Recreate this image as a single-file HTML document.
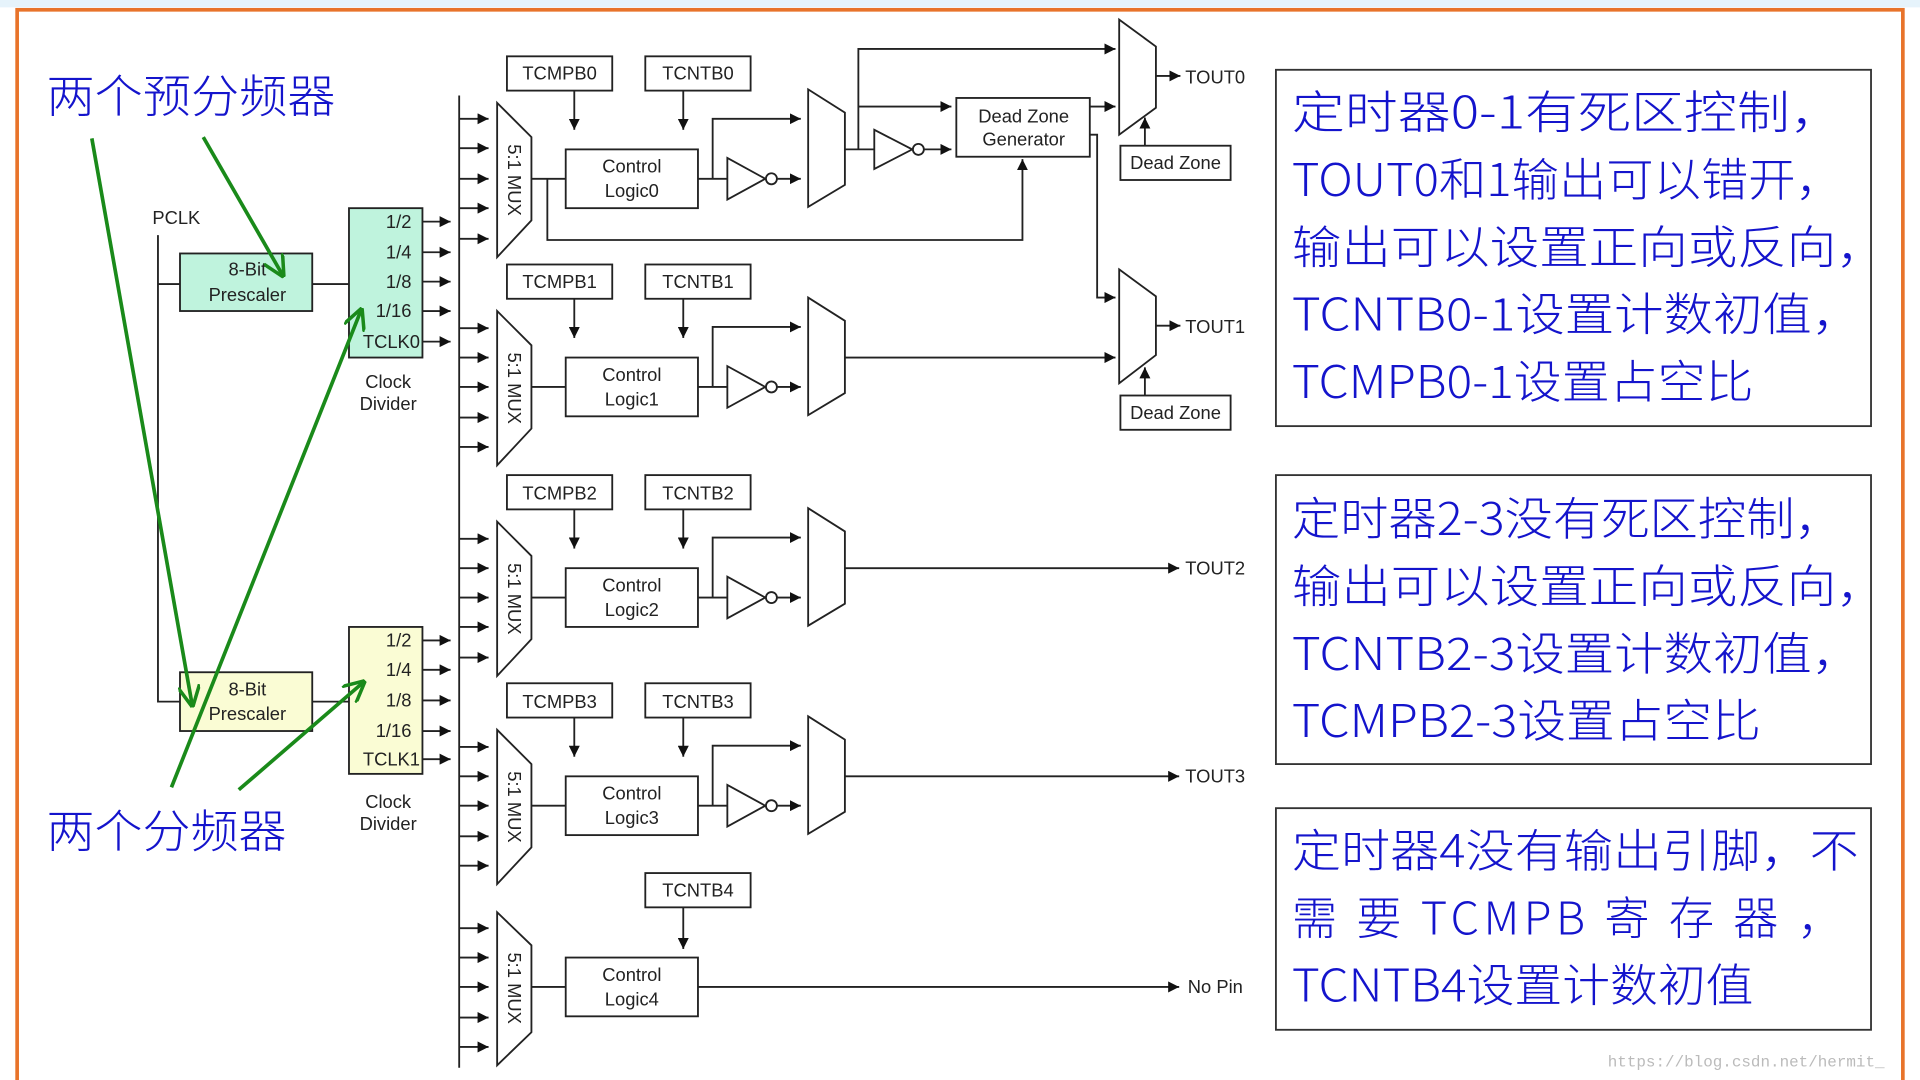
<!DOCTYPE html>
<html><head><meta charset="utf-8"><style>
html,body{margin:0;padding:0;background:#fff;}
svg{display:block;}
.d{font-family:"Liberation Sans",sans-serif;font-size:15px;fill:#222;}
.c{font-family:"Noto Sans CJK SC","Liberation Sans",sans-serif;font-size:37px;font-weight:300;fill:#1414cc;}
</style></head><body>
<svg width="1920" height="1080" viewBox="0 0 1568 882" preserveAspectRatio="none" xmlns="http://www.w3.org/2000/svg">
<defs>
<marker id="a" viewBox="0 0 10 10" refX="10" refY="5" markerWidth="9" markerHeight="9" markerUnits="userSpaceOnUse" orient="auto"><path d="M0,0L10,5L0,10z" fill="#111"/></marker>
<marker id="g" viewBox="0 0 10 10" refX="9" refY="5" markerWidth="18" markerHeight="18" markerUnits="userSpaceOnUse" orient="auto"><path d="M0,0L10,5L0,10" fill="none" stroke="#1a8a1a" stroke-width="1.6"/></marker>
</defs>
<rect x="0" y="0" width="1568" height="882" fill="#fff"/>
<rect x="0" y="0" width="1568" height="6" fill="#e6f3fb"/>
<rect x="14" y="8" width="1540" height="890" fill="none" stroke="#e8732a" stroke-width="3"/>

<g stroke="#222" stroke-width="1.5" fill="none">
<path d="M129,192V573H147M129,232H147M255,232H285M255,573H285"/>
<rect x="147" y="207" width="108" height="47" fill="#bff3dd"/>
<rect x="285" y="170" width="60" height="122" fill="#bff3dd"/>
<rect x="147" y="549" width="108" height="48" fill="#fafcd4"/>
<rect x="285" y="512" width="60" height="120" fill="#fafcd4"/>
<g marker-end="url(#a)">
<path d="M345,181H368"/><path d="M345,206H368"/><path d="M345,230H368"/><path d="M345,254H368"/><path d="M345,279H368"/>
<path d="M345,523H368"/><path d="M345,547H368"/><path d="M345,572H368"/><path d="M345,597H368"/><path d="M345,620H368"/>
</g>
<path d="M375,78V872"/>
<g marker-end="url(#a)">
<path d="M375,97H399"/><path d="M375,121H399"/><path d="M375,146H399"/><path d="M375,170H399"/><path d="M375,195H399"/>
<path d="M375,268H399"/><path d="M375,292H399"/><path d="M375,316H399"/><path d="M375,341H399"/><path d="M375,365H399"/>
<path d="M375,440H399"/><path d="M375,464H399"/><path d="M375,488H399"/><path d="M375,512H399"/><path d="M375,537H399"/>
<path d="M375,610H399"/><path d="M375,634H399"/><path d="M375,658H399"/><path d="M375,683H399"/><path d="M375,707H399"/>
<path d="M375,758H399"/><path d="M375,782H399"/><path d="M375,806H399"/><path d="M375,831H399"/><path d="M375,855H399"/>
</g>
</g>

<g id="grp" stroke="#222" stroke-width="1.5" fill="none">
<rect x="414" y="46" width="86" height="28" fill="#fff"/>
<rect x="527" y="46" width="86" height="28" fill="#fff"/>
<path d="M469,74V106" marker-end="url(#a)"/>
<path d="M558,74V106" marker-end="url(#a)"/>
<path d="M406,84L434,112V180L406,210Z" fill="#fff"/>
<path d="M434,146H462"/>
<rect x="462" y="122" width="108" height="48" fill="#fff"/>
<path d="M570,146H594"/>
<path d="M582,146V97H654" marker-end="url(#a)"/>
<path d="M594,129L594,163L625,146Z" fill="#fff"/>
<circle cx="630" cy="146" r="4.5" fill="#fff"/>
<path d="M635,146H654" marker-end="url(#a)"/>
<path d="M660,73L690,92V151L660,169Z" fill="#fff"/>
</g>
<use href="#grp" y="170"/>
<use href="#grp" y="342"/>
<use href="#grp" y="512"/>

<g stroke="#222" stroke-width="1.5" fill="none">
<path d="M447,146V196H835V130" marker-end="url(#a)"/>
<path d="M690,122H714"/>
<path d="M701,122V40H911" marker-end="url(#a)"/>
<path d="M701,87H777" marker-end="url(#a)"/>
<path d="M714,106L714,138L745,122Z" fill="#fff"/>
<circle cx="750" cy="122" r="4.5" fill="#fff"/>
<path d="M755,122H777" marker-end="url(#a)"/>
<rect x="781" y="80" width="109" height="48" fill="#fff"/>
<path d="M890,87H911" marker-end="url(#a)"/>
<path d="M890,110H896V243H911" marker-end="url(#a)"/>
<path d="M914,16L944,38V88L914,110Z" fill="#fff"/>
<path d="M944,62H964" marker-end="url(#a)"/>
<rect x="915" y="119" width="90" height="28" fill="#fff"/>
<path d="M935,119V96" marker-end="url(#a)"/>
<path d="M690,292H911" marker-end="url(#a)"/>
<path d="M914,220L944,242V290L914,313Z" fill="#fff"/>
<path d="M944,266H964" marker-end="url(#a)"/>
<rect x="915" y="323" width="90" height="28" fill="#fff"/>
<path d="M935,323V300" marker-end="url(#a)"/>
<path d="M690,464H963" marker-end="url(#a)"/>
<path d="M690,634H963" marker-end="url(#a)"/>
<rect x="527" y="713" width="86" height="28" fill="#fff"/>
<path d="M558,741V775" marker-end="url(#a)"/>
<path d="M406,745L434,772V843L406,870Z" fill="#fff"/>
<path d="M434,806H462"/>
<rect x="462" y="782" width="108" height="48" fill="#fff"/>
<path d="M570,806H963" marker-end="url(#a)"/>
</g>

<g class="d" text-anchor="middle">
<text x="144" y="183">PCLK</text>
<text x="202" y="225">8-Bit</text><text x="202" y="246">Prescaler</text>
<text x="202" y="568">8-Bit</text><text x="202" y="588">Prescaler</text>
<text x="317" y="317">Clock</text><text x="317" y="335">Divider</text>
<text x="317" y="660">Clock</text><text x="317" y="678">Divider</text>
<text x="836" y="100">Dead Zone</text><text x="836" y="119">Generator</text>
<text x="960" y="138">Dead Zone</text><text x="960" y="342">Dead Zone</text>
<text x="570" y="732">TCNTB4</text>
<text x="516" y="801">Control</text><text x="516" y="821">Logic4</text>
</g>
<g class="d" text-anchor="end">
<text x="336" y="186">1/2</text><text x="336" y="211">1/4</text><text x="336" y="235">1/8</text><text x="336" y="259">1/16</text><text x="343" y="284">TCLK0</text>
<text x="336" y="528">1/2</text><text x="336" y="552">1/4</text><text x="336" y="577">1/8</text><text x="336" y="602">1/16</text><text x="343" y="625">TCLK1</text>
</g>
<g class="d">
<text x="968" y="68">TOUT0</text><text x="968" y="272">TOUT1</text>
<text x="968" y="469">TOUT2</text><text x="968" y="639">TOUT3</text>
<text x="970" y="811">No Pin</text>
</g>
<g class="d" text-anchor="middle">
<text x="457" y="65">TCMPB0</text><text x="570" y="65">TCNTB0</text><text x="516" y="141">Control</text><text x="516" y="161">Logic0</text>
<text x="457" y="235">TCMPB1</text><text x="570" y="235">TCNTB1</text><text x="516" y="311">Control</text><text x="516" y="331">Logic1</text>
<text x="457" y="408">TCMPB2</text><text x="570" y="408">TCNTB2</text><text x="516" y="483">Control</text><text x="516" y="503">Logic2</text>
<text x="457" y="578">TCMPB3</text><text x="570" y="578">TCNTB3</text><text x="516" y="653">Control</text><text x="516" y="673">Logic3</text>
</g>
<g class="d" font-size="13">
<text transform="translate(415,147) rotate(90)" text-anchor="middle">5:1 MUX</text>
<text transform="translate(415,317) rotate(90)" text-anchor="middle">5:1 MUX</text>
<text transform="translate(415,489) rotate(90)" text-anchor="middle">5:1 MUX</text>
<text transform="translate(415,659) rotate(90)" text-anchor="middle">5:1 MUX</text>
<text transform="translate(415,807) rotate(90)" text-anchor="middle">5:1 MUX</text>
</g>

<text class="c" x="38" y="92" textLength="236" lengthAdjust="spacingAndGlyphs">两个预分频器</text>
<text class="c" x="38" y="692" textLength="196" lengthAdjust="spacingAndGlyphs">两个分频器</text>
<g stroke="#1a8a1a" stroke-width="3" fill="none" marker-end="url(#g)">
<path d="M75,113L157,576"/>
<path d="M166,112L231,225"/>
<path d="M140,643L295,253"/>
<path d="M195,645L297,557"/>
</g>

<g stroke="#333" stroke-width="1.5" fill="#fff">
<rect x="1042" y="57" width="486" height="291"/>
<rect x="1042" y="388" width="486" height="236"/>
<rect x="1042" y="660" width="486" height="181"/>
</g>
<g class="c">
<text x="1055" y="105" textLength="450" lengthAdjust="spacingAndGlyphs">定时器0-1有死区控制，</text>
<text x="1055" y="160" textLength="450" lengthAdjust="spacingAndGlyphs">TOUT0和1输出可以错开，</text>
<text x="1055" y="215" textLength="485" lengthAdjust="spacingAndGlyphs">输出可以设置正向或反向，</text>
<text x="1055" y="270" textLength="465" lengthAdjust="spacingAndGlyphs">TCNTB0-1设置计数初值，</text>
<text x="1055" y="325" textLength="377" lengthAdjust="spacingAndGlyphs">TCMPB0-1设置占空比</text>
<text x="1055" y="437" textLength="450" lengthAdjust="spacingAndGlyphs">定时器2-3没有死区控制，</text>
<text x="1055" y="492" textLength="485" lengthAdjust="spacingAndGlyphs">输出可以设置正向或反向，</text>
<text x="1055" y="547" textLength="465" lengthAdjust="spacingAndGlyphs">TCNTB2-3设置计数初值，</text>
<text x="1055" y="602" textLength="383" lengthAdjust="spacingAndGlyphs">TCMPB2-3设置占空比</text>
<text x="1055" y="708" textLength="463" lengthAdjust="spacingAndGlyphs">定时器4没有输出引脚，不</text>
<text x="1055" y="763" textLength="450" lengthAdjust="spacing">需 要 TCMPB 寄 存 器 ，</text>
<text x="1055" y="818" textLength="377" lengthAdjust="spacingAndGlyphs">TCNTB4设置计数初值</text>
</g>
<text x="1313" y="871" font-family="Liberation Mono, monospace" font-size="13" fill="#bbb">https://blog.csdn.net/hermit_</text>
</svg>
</body></html>
